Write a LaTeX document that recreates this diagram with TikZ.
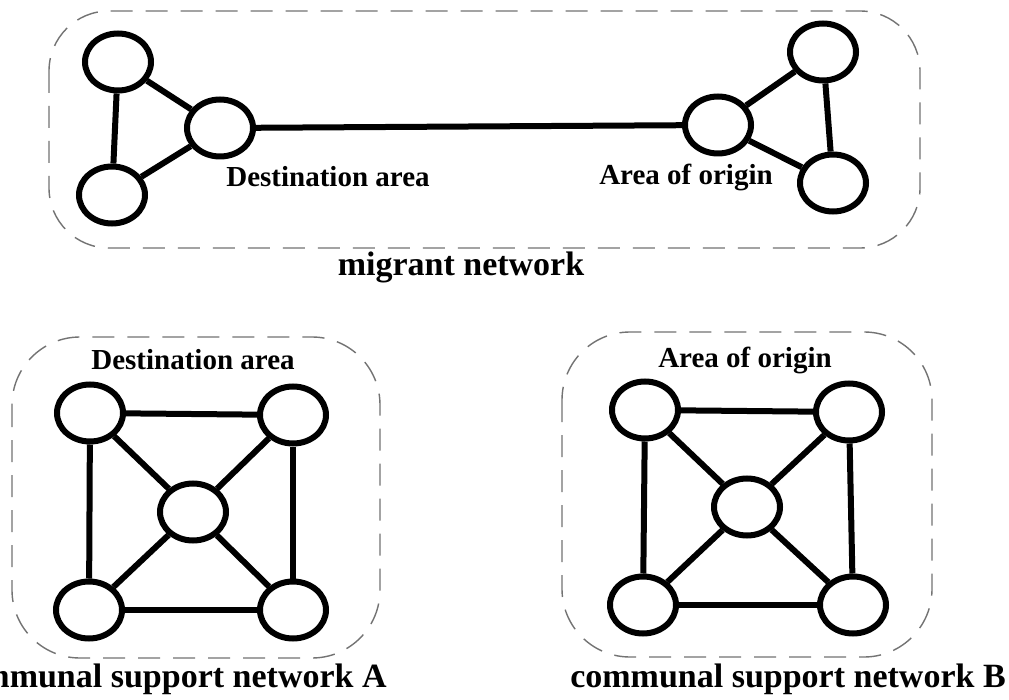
\documentclass[tikz,border=0pt]{standalone}
\usepackage{fontspec}
\setmainfont{Liberation Serif}
\usetikzlibrary{shapes.geometric}
\begin{document}
\begin{tikzpicture}[x=1pt,y=-1pt,
  person/.style={ellipse,draw=black,line width=6pt,fill=white,
                 minimum width=66pt,minimum height=57pt,inner sep=0pt},
  tie/.style={line width=6pt,draw=black},
  group/.style={draw=black!55,line width=1.4pt,dash pattern=on 22pt off 13pt},
  lbl/.style={font=\bfseries\fontsize{29}{29}\selectfont,anchor=base,inner sep=0pt},
  netname/.style={font=\bfseries\fontsize{34}{34}\selectfont,anchor=base,inner sep=0pt}]
\clip (0,0) rectangle (1009,700);
\fill[white] (0,0) rectangle (1009,700);

% group outlines
\draw[group,rounded corners=60pt] (49,11) rectangle (920,248);
\draw[group,rounded corners=68pt] (12,337) rectangle (380,658);
\draw[group,rounded corners=68pt] (562,332) rectangle (932,657);

% migrant network
\node[person] (d1) at (118,62) {};
\node[person] (d2) at (220,128) {};
\node[person] (d3) at (112,195) {};
\node[person] (o1) at (718,125) {};
\node[person] (o2) at (823,52) {};
\node[person] (o3) at (833,183) {};
\draw[tie] (d1) -- (d3);
\draw[tie] (d1) -- (d2);
\draw[tie] (d3) -- (d2);
\draw[tie] (d2) -- (o1);
\draw[tie] (o1) -- (o2);
\draw[tie] (o1) -- (o3);
\draw[tie] (o2) -- (o3);
\node[lbl] (dlab) at (328,187) {Destination area};
\node[lbl] (olab) at (686,185) {Area of origin};
\node[netname] (mlab) at (461,276) {migrant network};

% communal support network A
\node[person] (a1) at (90,413) {};
\node[person] (a2) at (293,415) {};
\node[person] (a3) at (89,610) {};
\node[person] (a4) at (293,610) {};
\node[person] (a5) at (193,512) {};
\draw[tie] (a1) -- (a2);
\draw[tie] (a3) -- (a4);
\draw[tie] (a1) -- (a3);
\draw[tie] (a2) -- (a4);
\draw[tie] (a1) -- (a5);
\draw[tie] (a2) -- (a5);
\draw[tie] (a3) -- (a5);
\draw[tie] (a4) -- (a5);
\node[lbl] (alab) at (193,370) {Destination area};
\node[netname] (acap) at (168,687) {communal support network A};

% communal support network B
\node[person] (b1) at (645,410) {};
\node[person] (b2) at (849,412) {};
\node[person] (b3) at (643,605) {};
\node[person] (b4) at (853,605) {};
\node[person] (b5) at (747,507) {};
\draw[tie] (b1) -- (b2);
\draw[tie] (b3) -- (b4);
\draw[tie] (b1) -- (b3);
\draw[tie] (b2) -- (b4);
\draw[tie] (b1) -- (b5);
\draw[tie] (b2) -- (b5);
\draw[tie] (b3) -- (b5);
\draw[tie] (b4) -- (b5);
\node[lbl] (blab) at (745,368) {Area of origin};
\node[netname] (bcap) at (788,687) {communal support network B};
\end{tikzpicture}
\end{document}
